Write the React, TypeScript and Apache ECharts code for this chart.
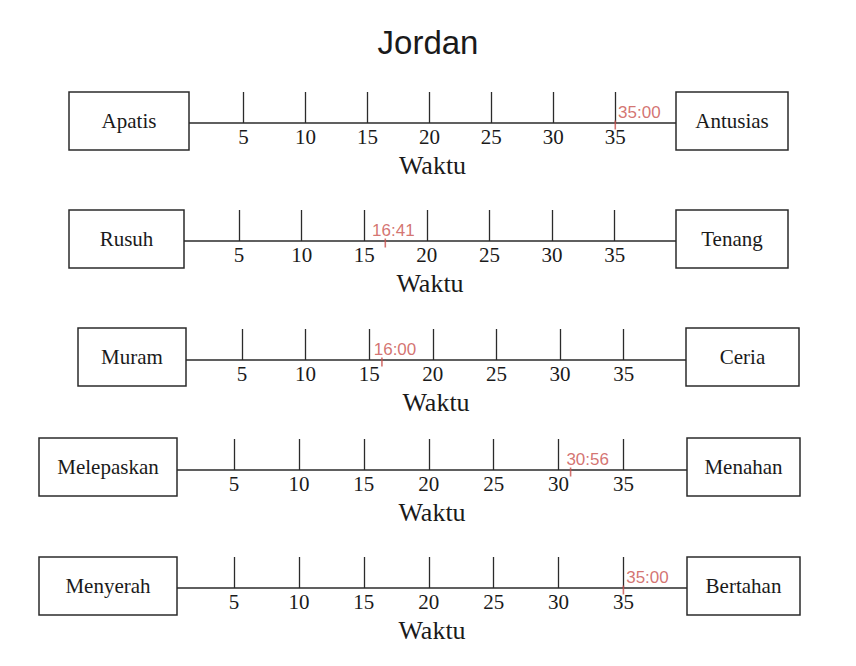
import React, { useEffect, useRef } from "react";
import * as echarts from "echarts";

// ---- data ----
const title = "Jordan";
const leftLabels = ["Apatis", "Rusuh", "Muram", "Melepaskan", "Menyerah"];
const rightLabels = ["Antusias", "Tenang", "Ceria", "Menahan", "Bertahan"];
const tickValues = [5, 10, 15, 20, 25, 30, 35];
const markerValues = [35, 16.68, 16, 30.93, 35]; // minutes
const markerLabels = ["35:00", "16:41", "16:00", "30:56", "35:00"];
const axisName = "Waktu";
const axisMin = 0.6;
const axisMax = 39.9;

// ---- layout (pixels) ----
const rowLayout = [
  { top: 92, line: 123, lb: [69, 189], rb: [676, 788], labelDx: 0 },
  { top: 210, line: 241, lb: [69, 184], rb: [676, 788], labelDx: -16 },
  { top: 328, line: 360, lb: [78, 186], rb: [686, 799], labelDx: -11 },
  { top: 438, line: 470, lb: [39, 177], rb: [687, 800], labelDx: -7 },
  { top: 557, line: 588, lb: [39, 177], rb: [687, 800], labelDx: 0 },
];
const BOX_H = 58;
const INK = "#2b2b2b";
const RED = "#c9504c";
const SERIF = "'Liberation Serif', 'Times New Roman', serif";
const SANS = "'Liberation Sans', Arial, sans-serif";

export default function App() {
  const ref = useRef<HTMLDivElement>(null);
  useEffect(() => {
    if (!ref.current) return;
    const chart = echarts.init(ref.current, null, { renderer: "svg" });
    const grids: any[] = [];
    const xAxes: any[] = [];
    const yAxes: any[] = [];
    const series: any[] = [];
    const graphics: any[] = [];

    rowLayout.forEach((r, i) => {
      grids.push({
        left: r.lb[1],
        width: r.rb[0] - r.lb[1],
        top: r.line - 40,
        height: 40,
      });
      xAxes.push({
        type: "value",
        gridIndex: i,
        min: axisMin,
        max: axisMax,
        splitLine: { show: false },
        axisLine: { show: true, onZero: false, lineStyle: { color: INK, width: 1.5 } },
        axisTick: {
          show: true,
          inside: true,
          length: 31,
          customValues: tickValues,
          lineStyle: { color: INK, width: 1.3 },
        },
        axisLabel: {
          show: true,
          customValues: tickValues,
          margin: 3,
          color: "#1a1a1a",
          fontFamily: SERIF,
          fontSize: 21,
        },
        name: axisName,
        nameLocation: "middle",
        nameGap: 29,
        nameTextStyle: { fontFamily: SERIF, fontSize: 26, color: "#1a1a1a" },
      });
      yAxes.push({ type: "value", gridIndex: i, show: false, min: 0, max: 1 });
      series.push({
        type: "scatter",
        xAxisIndex: i,
        yAxisIndex: i,
        data: [[markerValues[i], 0]],
        symbol: "rect",
        symbolSize: [1.6, 9],
        symbolOffset: [0, 2],
        itemStyle: { color: RED },
        label: {
          show: true,
          position: "right",
          distance: 5,
          offset: [-3 + r.labelDx, -13],
          formatter: markerLabels[i],
          color: RED,
          fontFamily: SANS,
          fontSize: 17,
        },
        z: 5,
      });

      const boxes = [
        { x: r.lb[0], w: r.lb[1] - r.lb[0], text: leftLabels[i] },
        { x: r.rb[0], w: r.rb[1] - r.rb[0], text: rightLabels[i] },
      ];
      boxes.forEach((b) => {
        graphics.push({
          type: "rect",
          shape: { x: b.x, y: r.top, width: b.w, height: BOX_H },
          style: { fill: "#fff", stroke: INK, lineWidth: 1.5 },
          z: 10,
        });
        graphics.push({
          type: "text",
          x: b.x + b.w / 2,
          y: r.top + BOX_H / 2,
          style: {
            text: b.text,
            font: `21px ${SERIF}`,
            fill: "#1a1a1a",
            align: "center",
            verticalAlign: "middle",
          },
          z: 11,
        });
      });
    });

    chart.setOption({
      animation: false,
      backgroundColor: "#fff",
      title: {
        text: title,
        left: "center",
        top: 21,
        textStyle: { fontFamily: SANS, fontSize: 33, fontWeight: "normal", color: "#1a1a1a" },
      },
      grid: grids,
      xAxis: xAxes,
      yAxis: yAxes,
      series,
      graphic: graphics,
    });
    return () => chart.dispose();
  }, []);
  return (
    <div
      ref={ref}
      style={{ position: "fixed", left: 0, top: 0, width: 856, height: 666 }}
    />
  );
}
